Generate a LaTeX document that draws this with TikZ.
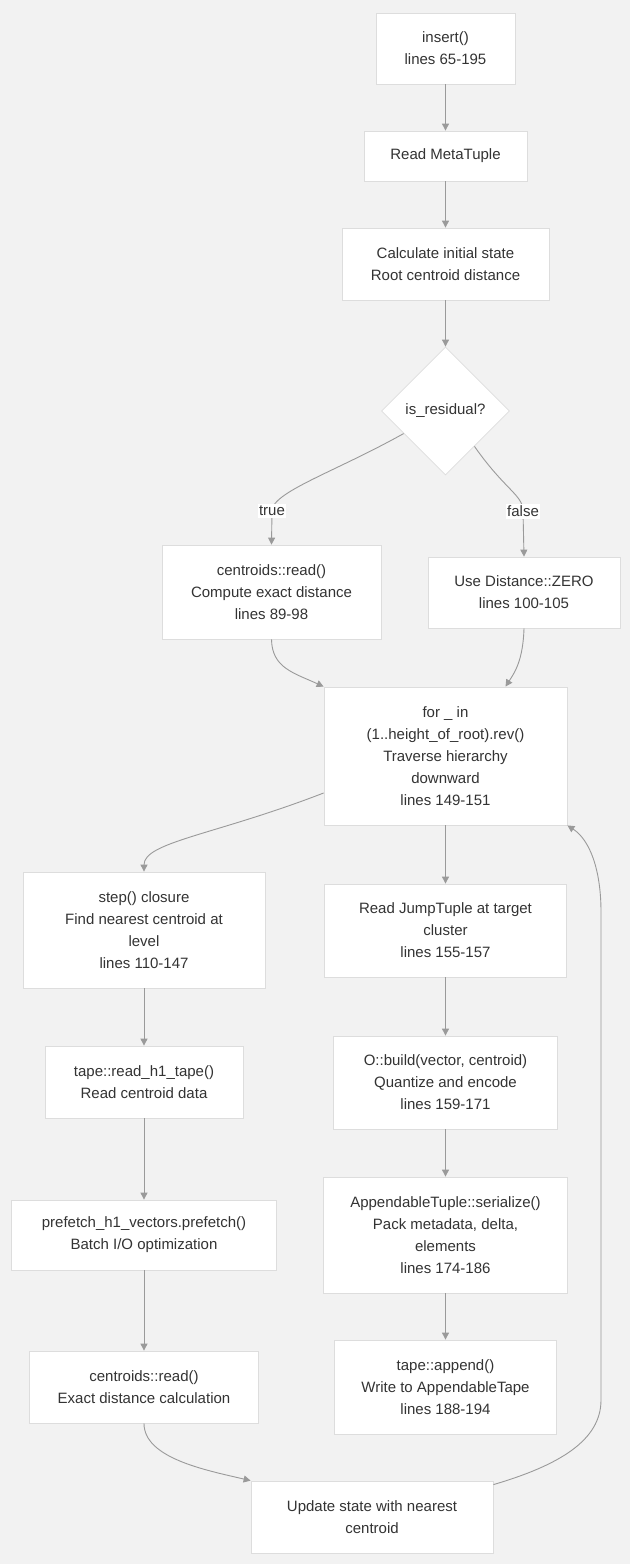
\documentclass[tikz,border=0pt]{standalone}
\usepackage{fontspec}
\setmainfont{Liberation Sans}
\usetikzlibrary{arrows.meta,shapes.geometric,calc}
\definecolor{bg}{HTML}{F2F2F2}
\definecolor{bx}{HTML}{DDDDDD}
\definecolor{ln}{HTML}{9A9A9A}
\definecolor{tx}{HTML}{333333}
\begin{document}
\begin{tikzpicture}[x=1pt,y=-1pt,
  box/.style={draw=bx, fill=white, line width=0.8pt, align=center, text=tx,
    font=\fontsize{15}{22}\selectfont, inner sep=0pt},
  sz/.style 2 args={minimum width=#1pt, minimum height=#2pt},
  dia/.style={diamond, draw=bx, fill=white, line width=0.8pt, text=tx,
    font=\fontsize{15}{22}\selectfont, inner sep=0pt, aspect=1,
    minimum width=128pt, minimum height=128pt},
  arr/.style={draw=ln, line width=0.9pt, -{Triangle[length=7pt,width=7pt]}},
  lab/.style={fill=white, text=tx, font=\fontsize{15}{22}\selectfont,
    inner xsep=1pt, inner ysep=2pt}
]
\useasboundingbox[fill=bg] (0,0) rectangle (630,1564);

\node[box, sz={139}{71}] (n1) at (445.5,48.5) {insert()\\lines 65-195};
\node[box, sz={163}{50}] (n2) at (445.5,156) {Read MetaTuple};
\node[box, sz={207}{72}] (n3) at (445.5,264) {Calculate initial state\\Root centroid distance};
\node[dia] (d) at (445.5,411) {is\_residual?};
\node[box, sz={219}{94}] (n5) at (271.5,592) {centroids::read()\\Compute exact distance\\lines 89-98};
\node[box, sz={192}{71}] (n6) at (524,592.5) {Use Distance::ZERO\\lines 100-105};
\node[box, sz={243}{138}] (n7) at (445.5,756) {for \_ in\\(1..height\_of\_root).rev()\\Traverse hierarchy\\downward\\lines 149-151};
\node[box, sz={242}{116}] (n8) at (144,930) {step() closure\\Find nearest centroid at\\level\\lines 110-147};
\node[box, sz={242}{93}] (n9) at (445.5,930.5) {Read JumpTuple at target\\cluster\\lines 155-157};
\node[box, sz={198}{72}] (n10) at (144,1082) {tape::read\_h1\_tape()\\Read centroid data};
\node[box, sz={224}{93}] (n11) at (445.5,1082.5) {O::build(vector, centroid)\\Quantize and encode\\lines 159-171};
\node[box, sz={265}{70}] (n12) at (144,1235) {prefetch\_h1\_vectors.prefetch()\\Batch I/O optimization};
\node[box, sz={244}{116}] (n13) at (445.5,1235) {AppendableTuple::serialize()\\Pack metadata, delta,\\elements\\lines 174-186};
\node[box, sz={229}{72}] (n14) at (144,1387) {centroids::read()\\Exact distance calculation};
\node[box, sz={222}{94}] (n15) at (445.5,1387) {tape::append()\\Write to AppendableTape\\lines 188-194};
\node[box, sz={242}{72}] (n16) at (372,1517) {Update state with nearest\\centroid};

% straight edges
\draw[arr] (n1) -- (n2);
\draw[arr] (n2) -- (n3);
\draw[arr] (n3) -- (d);
\draw[arr] (n7) -- (n9);
\draw[arr] (n8) -- (n10);
\draw[arr] (n9) -- (n11);
\draw[arr] (n10) -- (n12);
\draw[arr] (n11) -- (n13);
\draw[arr] (n12) -- (n14);
\draw[arr] (n13) -- (n15);

% branch edges
\coordinate (ts) at ($(d.west)!0.35!(d.south)$);
\coordinate (fs) at ($(d.east)!0.55!(d.south)$);
\coordinate (tl) at (272,511);
\coordinate (fl) at (523,511);
\draw[arr] (ts) .. controls (335,472) and (272,492) .. (tl) -- (n5.north);
\draw[arr] (fs) .. controls (505,490) and (523,495) .. (fl) -- (n6.north);
\node[lab] (tlab) at (tl) {true};
\node[lab] (flab) at (fl) {false};

% merges into loop
\draw[arr] (n5.south) .. controls (272,668) and (294,673) .. (n7.north west);
\draw[arr] (n6.south) .. controls (523,660) and (515,672) .. ([xshift=60pt]n7.north);

% loop to step
\draw[arr] ([yshift=-37pt]n7.west) .. controls (215,835) and (144,842) .. (n8.north);

% into update
\draw[arr] (n14.south) .. controls (144,1458) and (205,1470) .. (n16.north west);

% back edge
\coordinate (r1) at (601,1400);
\coordinate (r2) at (601,912);
\draw[arr] ([yshift=-4pt]n16.north east) .. controls (560,1465) and (601,1440) .. (r1) -- (r2) .. controls (601,870) and (590,840) .. (n7.south east);
\end{tikzpicture}
\end{document}
